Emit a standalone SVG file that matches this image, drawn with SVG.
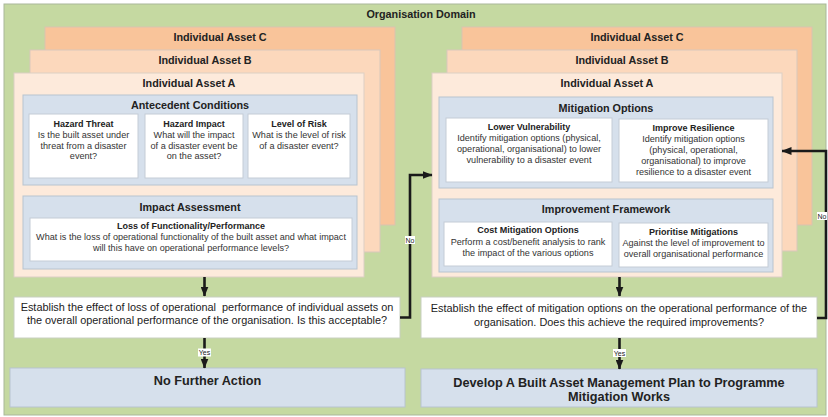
<svg xmlns="http://www.w3.org/2000/svg" width="828" height="417" viewBox="0 0 828 417">
<defs>
<style>
text{font-family:"Liberation Sans",Arial,sans-serif;fill:#222;text-anchor:middle}
.dom{fill:#c5d9a1;stroke:#a9b79a;stroke-width:1}
.ac{fill:#f9c49a;stroke:#d9c3b0;stroke-width:1}
.ab{fill:#fcd8bc;stroke:#d9c8bb;stroke-width:1}
.aa{fill:#fdeadb;stroke:#dccfc4;stroke-width:1}
.pn{fill:#d6e0ec;stroke:#b8c4d0;stroke-width:1}
.wb{fill:#ffffff;stroke:#c4ccd6;stroke-width:1}
.qb{fill:#ffffff;stroke:#c8d0c0;stroke-width:1}
.t11{font-size:10.8px;font-weight:bold}
.t9b{font-size:9px;font-weight:bold}
.t9{font-size:9.1px;fill:#333}
.q{font-size:10.9px;fill:#222}
.big{font-size:12.7px;font-weight:bold}
.lbl{font-size:7px;fill:#222}
.con{fill:none;stroke:#1a1a1a;stroke-width:2.6}
</style>
<marker id="ah" markerWidth="10" markerHeight="8" refX="9.5" refY="4" orient="auto" markerUnits="userSpaceOnUse">
<path d="M0,0 L10,4 L0,8 Z" fill="#1a1a1a"/>
</marker>
</defs>

<g id="domain">
<rect class="dom" x="4" y="4" width="822" height="411"/>
<text class="t11" x="421" y="18">Organisation Domain</text>
</g>

<!-- Left side -->
<g id="left-asset-c">
<rect class="ac" x="45" y="27" width="350" height="198"/>
<text class="t11" x="220" y="41">Individual Asset C</text>
</g>
<g id="left-asset-b">
<rect class="ab" x="30" y="50" width="350" height="202"/>
<text class="t11" x="205" y="64">Individual Asset B</text>
</g>
<g id="left-asset-a">
<rect class="aa" x="14" y="73" width="350" height="204"/>
<text class="t11" x="189" y="87">Individual Asset A</text>
</g>
<g id="antecedent-conditions">
<rect class="pn" x="23" y="95" width="334" height="90"/>
<text class="t11" x="190" y="109">Antecedent Conditions</text>
</g>
<g id="hazard-threat">
<rect class="wb" x="29" y="114" width="109" height="64"/>
<text class="t9b" x="83.5" y="127">Hazard Threat</text>
<text class="t9" x="83.5" y="138">Is the built asset under</text>
<text class="t9" x="83.5" y="148.5">threat from a disaster</text>
<text class="t9" x="83.5" y="159">event?</text>
</g>
<g id="hazard-impact">
<rect class="wb" x="145" y="114" width="98" height="64"/>
<text class="t9b" x="194" y="127">Hazard Impact</text>
<text class="t9" x="194" y="138">What will the impact</text>
<text class="t9" x="194" y="148.5">of a disaster event be</text>
<text class="t9" x="194" y="159">on the asset?</text>
</g>
<g id="level-of-risk">
<rect class="wb" x="248" y="114" width="102" height="64"/>
<text class="t9b" x="299" y="127">Level of Risk</text>
<text class="t9" x="299" y="138">What is the level of risk</text>
<text class="t9" x="299" y="148.5">of a disaster event?</text>
</g>
<g id="impact-assessment">
<rect class="pn" x="23" y="196" width="334" height="73"/>
<text class="t11" x="190" y="211">Impact Assessment</text>
</g>
<g id="loss-of-functionality">
<rect class="wb" x="30" y="218" width="322" height="43"/>
<text class="t9b" x="191" y="228.5">Loss of Functionality/Performance</text>
<text class="t9" x="191" y="240">What is the loss of operational functionality of the built asset and what impact</text>
<text class="t9" x="191" y="250.5">will this have on operational performance levels?</text>
</g>
<g id="left-question">
<rect class="qb" x="14" y="297" width="386" height="41"/>
<text class="q" x="207" y="311" xml:space="preserve">Establish the effect of loss of operational  performance of individual assets on</text>
<text class="q" x="207" y="324">the overall operational performance of the organisation. Is this acceptable?</text>
</g>
<g id="no-further-action">
<rect class="pn" x="10" y="368" width="395" height="39"/>
<text class="big" x="207.5" y="385">No Further Action</text>
</g>

<!-- Right side -->
<g id="right-asset-c">
<rect class="ac" x="462" y="27" width="350" height="198"/>
<text class="t11" x="637" y="41">Individual Asset C</text>
</g>
<g id="right-asset-b">
<rect class="ab" x="447" y="50" width="350" height="201"/>
<text class="t11" x="622" y="64">Individual Asset B</text>
</g>
<g id="right-asset-a">
<rect class="aa" x="432" y="73" width="350" height="204"/>
<text class="t11" x="607" y="87">Individual Asset A</text>
</g>
<g id="mitigation-options">
<rect class="pn" x="439" y="97" width="334" height="91"/>
<text class="t11" x="606" y="112">Mitigation Options</text>
</g>
<g id="lower-vulnerability">
<rect class="wb" x="446" y="118" width="166" height="64"/>
<text class="t9b" x="529" y="129.5">Lower Vulnerability</text>
<text class="t9" x="529" y="141">Identify mitigation options (physical,</text>
<text class="t9" x="529" y="152">operational, organisational) to lower</text>
<text class="t9" x="529" y="163">vulnerability to a disaster event</text>
</g>
<g id="improve-resilience">
<rect class="wb" x="619" y="119" width="149" height="63"/>
<text class="t9b" x="693.5" y="131">Improve Resilience</text>
<text class="t9" x="693.5" y="142">Identify mitigation options</text>
<text class="t9" x="693.5" y="153">(physical, operational,</text>
<text class="t9" x="693.5" y="164">organisational) to improve</text>
<text class="t9" x="693.5" y="175">resilience to a disaster event</text>
</g>
<g id="improvement-framework">
<rect class="pn" x="439" y="199" width="334" height="73"/>
<text class="t11" x="606" y="213">Improvement Framework</text>
</g>
<g id="cost-mitigation-options">
<rect class="wb" x="444" y="222" width="168" height="44"/>
<text class="t9b" x="528" y="233">Cost Mitigation Options</text>
<text class="t9" x="528" y="244.5">Perform a cost/benefit analysis to rank</text>
<text class="t9" x="528" y="255.5">the impact of the various options</text>
</g>
<g id="prioritise-mitigations">
<rect class="wb" x="619" y="223" width="149" height="44"/>
<text class="t9b" x="693.5" y="235">Prioritise Mitigations</text>
<text class="t9" x="693.5" y="246">Against the level of improvement to</text>
<text class="t9" x="693.5" y="257">overall organisational performance</text>
</g>
<g id="right-question">
<rect class="qb" x="421" y="297" width="396" height="41"/>
<text class="q" x="619" y="312">Establish the effect of mitigation options on the operational performance of the</text>
<text class="q" x="619" y="325.5">organisation. Does this achieve the required improvements?</text>
</g>
<g id="develop-plan">
<rect class="pn" x="421" y="369" width="396" height="38"/>
<text class="big" x="619" y="386.5">Develop A Built Asset Management Plan to Programme</text>
<text class="big" x="619" y="400.5">Mitigation Works</text>
</g>

<g id="connectors">
<line class="con" x1="204.5" y1="277" x2="204.5" y2="296" marker-end="url(#ah)"/>
<line class="con" x1="204.5" y1="338" x2="204.5" y2="368" marker-end="url(#ah)"/>
<line class="con" x1="619.5" y1="277" x2="619.5" y2="296" marker-end="url(#ah)"/>
<line class="con" x1="619.5" y1="338" x2="619.5" y2="369" marker-end="url(#ah)"/>
<polyline class="con" points="400,317.5 410,317.5 410,175 432,175" marker-end="url(#ah)"/>
<polyline class="con" points="817,318 826,318 826,151 782,151" marker-end="url(#ah)"/>
<rect x="198" y="348.5" width="13" height="8" fill="#fff"/>
<text class="lbl" x="204.5" y="355">Yes</text>
<rect x="613" y="349" width="13" height="8" fill="#fff"/>
<text class="lbl" x="619.5" y="355.5">Yes</text>
<rect x="405" y="236" width="10" height="8" fill="#fff"/>
<text class="lbl" x="410" y="242.5">No</text>
<rect x="817" y="212" width="10" height="8" fill="#fff"/>
<text class="lbl" x="822" y="218.5">No</text>
</g>
</svg>
